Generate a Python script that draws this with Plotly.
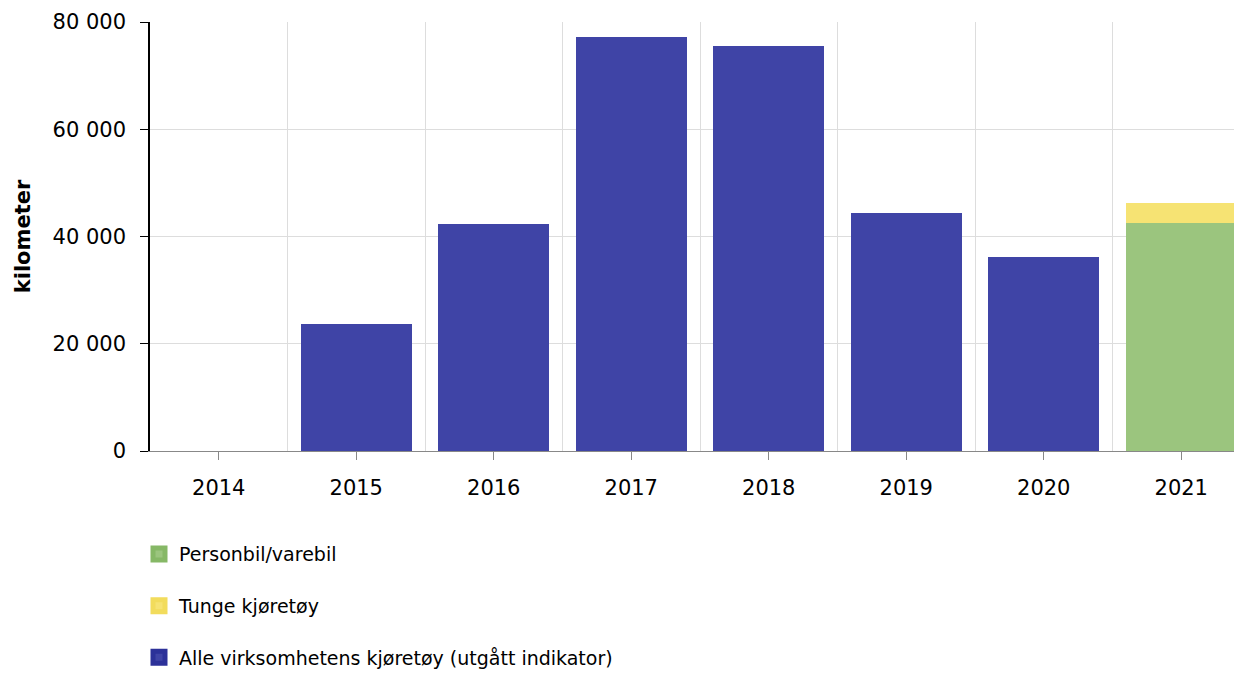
import plotly.graph_objects as go

years = [2014, 2015, 2016, 2017, 2018, 2019, 2020, 2021]
alle = [0, 23700, 42300, 77200, 75500, 44400, 36200, None]
personbil = [None, None, None, None, None, None, None, 42500]
tunge = [None, None, None, None, None, None, None, 3700]

y_ticks = [0, 20000, 40000, 60000, 80000]
y_ticktext = ["0", "20 000", "40 000", "60 000", "80 000"]
x_ticktext = [str(y) for y in years]

names = ["Personbil/varebil", "Tunge kjøretøy", "Alle virksomhetens kjøretøy (utgått indikator)"]
colors = ["#9bc57e", "#f6e373", "#3f44a6"]
edge = ["#86b866", "#f2dc5c", "#2c3199"]

font = "DejaVu Sans, Verdana, sans-serif"
FS = 21

fig = go.Figure()
for vals, name, col in zip([personbil, tunge, alle], names, colors):
    fig.add_trace(go.Bar(x=years, y=vals, name=name, showlegend=False,
                         marker=dict(color=col, line=dict(width=0))))
# legend entries (larger swatches)
for i, (name, col, ec) in enumerate(zip(names, colors, edge)):
    fig.add_trace(go.Bar(x=[None], y=[None], name=name, legendgroup=f"g{i}",
                         marker=dict(color=col, line=dict(color=ec, width=5))))

fig.update_layout(
    width=1242, height=665,
    barmode="stack", bargap=0.195,
    margin=dict(l=142, r=0, t=14, b=222, autoexpand=False),
    plot_bgcolor="white", paper_bgcolor="white",
    font=dict(family=font, size=FS, color="#000"),
    legend=dict(orientation="v", x=-0.01, xanchor="left", y=-0.196, yanchor="top",
                traceorder="grouped", font=dict(size=19), tracegroupgap=24,
                itemwidth=30),
    xaxis=dict(range=[2013.5, 2021.5], tickvals=years, ticktext=x_ticktext,
               showgrid=False, ticks="outside", ticklen=8, tickcolor="#888",
               showline=True, linecolor="#888", linewidth=1, zeroline=False,
               automargin=False, ticklabelstandoff=10,
               minor=dict(tickvals=[y + 0.5 for y in years[:-1]], showgrid=True,
                          gridcolor="#dddddd", gridwidth=1, ticks=""),
               tickfont=dict(size=FS)),
    yaxis=dict(range=[0, 80000], tickvals=y_ticks, ticktext=y_ticktext,
               showgrid=True, gridcolor="#dddddd", gridwidth=1,
               ticks="outside", ticklen=8, tickcolor="#000",
               showline=True, linecolor="#000", linewidth=1.5, zeroline=False,
               automargin=False, ticklabelstandoff=10,
               title=dict(text="<b>kilometer</b>", font=dict(size=FS), standoff=16),
               tickfont=dict(size=FS)),
)

fig.write_html("out.html")
